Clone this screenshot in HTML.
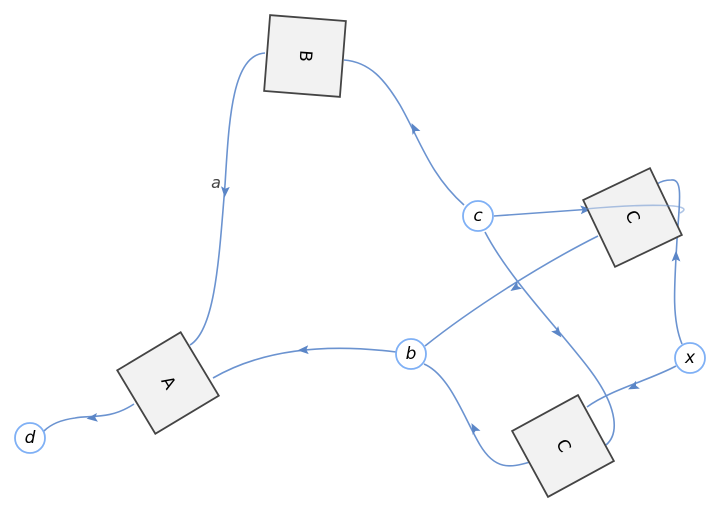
<!DOCTYPE html>
<html><head><style>
html,body{margin:0;padding:0;background:#fff;}
svg{display:block;}
text{font-family:"DejaVu Sans","Liberation Sans",sans-serif;}
</style></head><body>
<svg width="720" height="512" viewBox="0 0 720 512" xmlns="http://www.w3.org/2000/svg">
<defs>
<marker id="ar" viewBox="0 0 10 10" refX="5" refY="5" markerWidth="11" markerHeight="11" orient="auto" markerUnits="userSpaceOnUse">
<path d="M0,1 L10,5 L0,9 L2,5 z" fill="#5b86c7"/>
</marker>
</defs>
<g fill="none" stroke="#6b93d0" stroke-width="1.6">
<path d="M265,53 C232,55 229,120 225,185"/>
<path d="M225,185 C219,260 215,330 190,345"/>
<path d="M228,150 L225,192" stroke="none" marker-end="url(#ar)"/>
<path d="M464,205 C430,175 420,140 400,105 C385,80 370,62 344,60"/>
<path d="M420,140 L414,128" stroke="none" marker-end="url(#ar)"/>
<path d="M494,216 L592,209"/>
<path d="M565,211 L586,209.5" stroke="none" marker-end="url(#ar)"/>
<path d="M682,344 C672,320 674,290 677,240 C679,205 684,178 671,180 C665,180 660,182 657,184"/>
<path d="M676,275 L676,256" stroke="none" marker-end="url(#ar)"/>
<path d="M598,236 C540,265 470,310 425,346"/>
<path d="M530,278 L515,288" stroke="none" marker-end="url(#ar)"/>
<path d="M485,232 C510,280 560,330 590,370 C620,410 618,435 606,445"/>
<path d="M548,320 L558,333" stroke="none" marker-end="url(#ar)"/>
<path d="M396,352 C340,345 270,345 213,378"/>
<path d="M320,349 L303,350" stroke="none" marker-end="url(#ar)"/>
<path d="M424,364 C450,375 465,420 480,445 C495,470 510,468 530,462"/>
<path d="M482,443 L474,428" stroke="none" marker-end="url(#ar)"/>
<path d="M676,366 C650,380 610,390 587,407"/>
<path d="M648,380 L633,387" stroke="none" marker-end="url(#ar)"/>
<path d="M134,404 C110,420 90,415 75,418 C60,420 50,425 44,431"/>
<path d="M110,416 L92,418" stroke="none" marker-end="url(#ar)"/>
</g>
<text x="216" y="188" font-size="16" font-style="italic" fill="#444" text-anchor="middle">a</text>
<g fill="#f2f2f2" stroke="#444" stroke-width="1.8">
<rect x="-38" y="-38" width="76" height="76" transform="translate(305,56) rotate(4.5)"/>
<rect x="-37" y="-37" width="74" height="74" transform="translate(632.5,217.5) rotate(-25.5)"/>
<rect x="-37.5" y="-37.5" width="75" height="75" transform="translate(563,446) rotate(-28.6)"/>
<rect x="-37" y="-37" width="74" height="74" transform="translate(168,383) rotate(-31)"/>
</g>
<path d="M585,209 C640,204 700,203 680,213" fill="none" stroke="#6b93d0" stroke-width="1.6" opacity="0.55"/>
<g font-size="17" fill="#000" text-anchor="middle" dominant-baseline="central">
<text transform="translate(305,56) rotate(94)">B</text>
<text transform="translate(632,217) rotate(64)">C</text>
<text transform="translate(563,446) rotate(61)">C</text>
<text transform="translate(168,383) rotate(59)">A</text>
</g>
<g fill="#fff" stroke="#7fb0f5" stroke-width="1.8">
<circle cx="478" cy="216" r="15"/>
<circle cx="411" cy="354" r="15"/>
<circle cx="690" cy="358" r="15"/>
<circle cx="30" cy="438" r="15"/>
</g>
<g font-size="17" font-style="italic" fill="#000" text-anchor="middle" dominant-baseline="central">
<text x="478" y="216">c</text>
<text x="411" y="354">b</text>
<text x="690" y="358">x</text>
<text x="30" y="438">d</text>
</g>
</svg>
</body></html>
